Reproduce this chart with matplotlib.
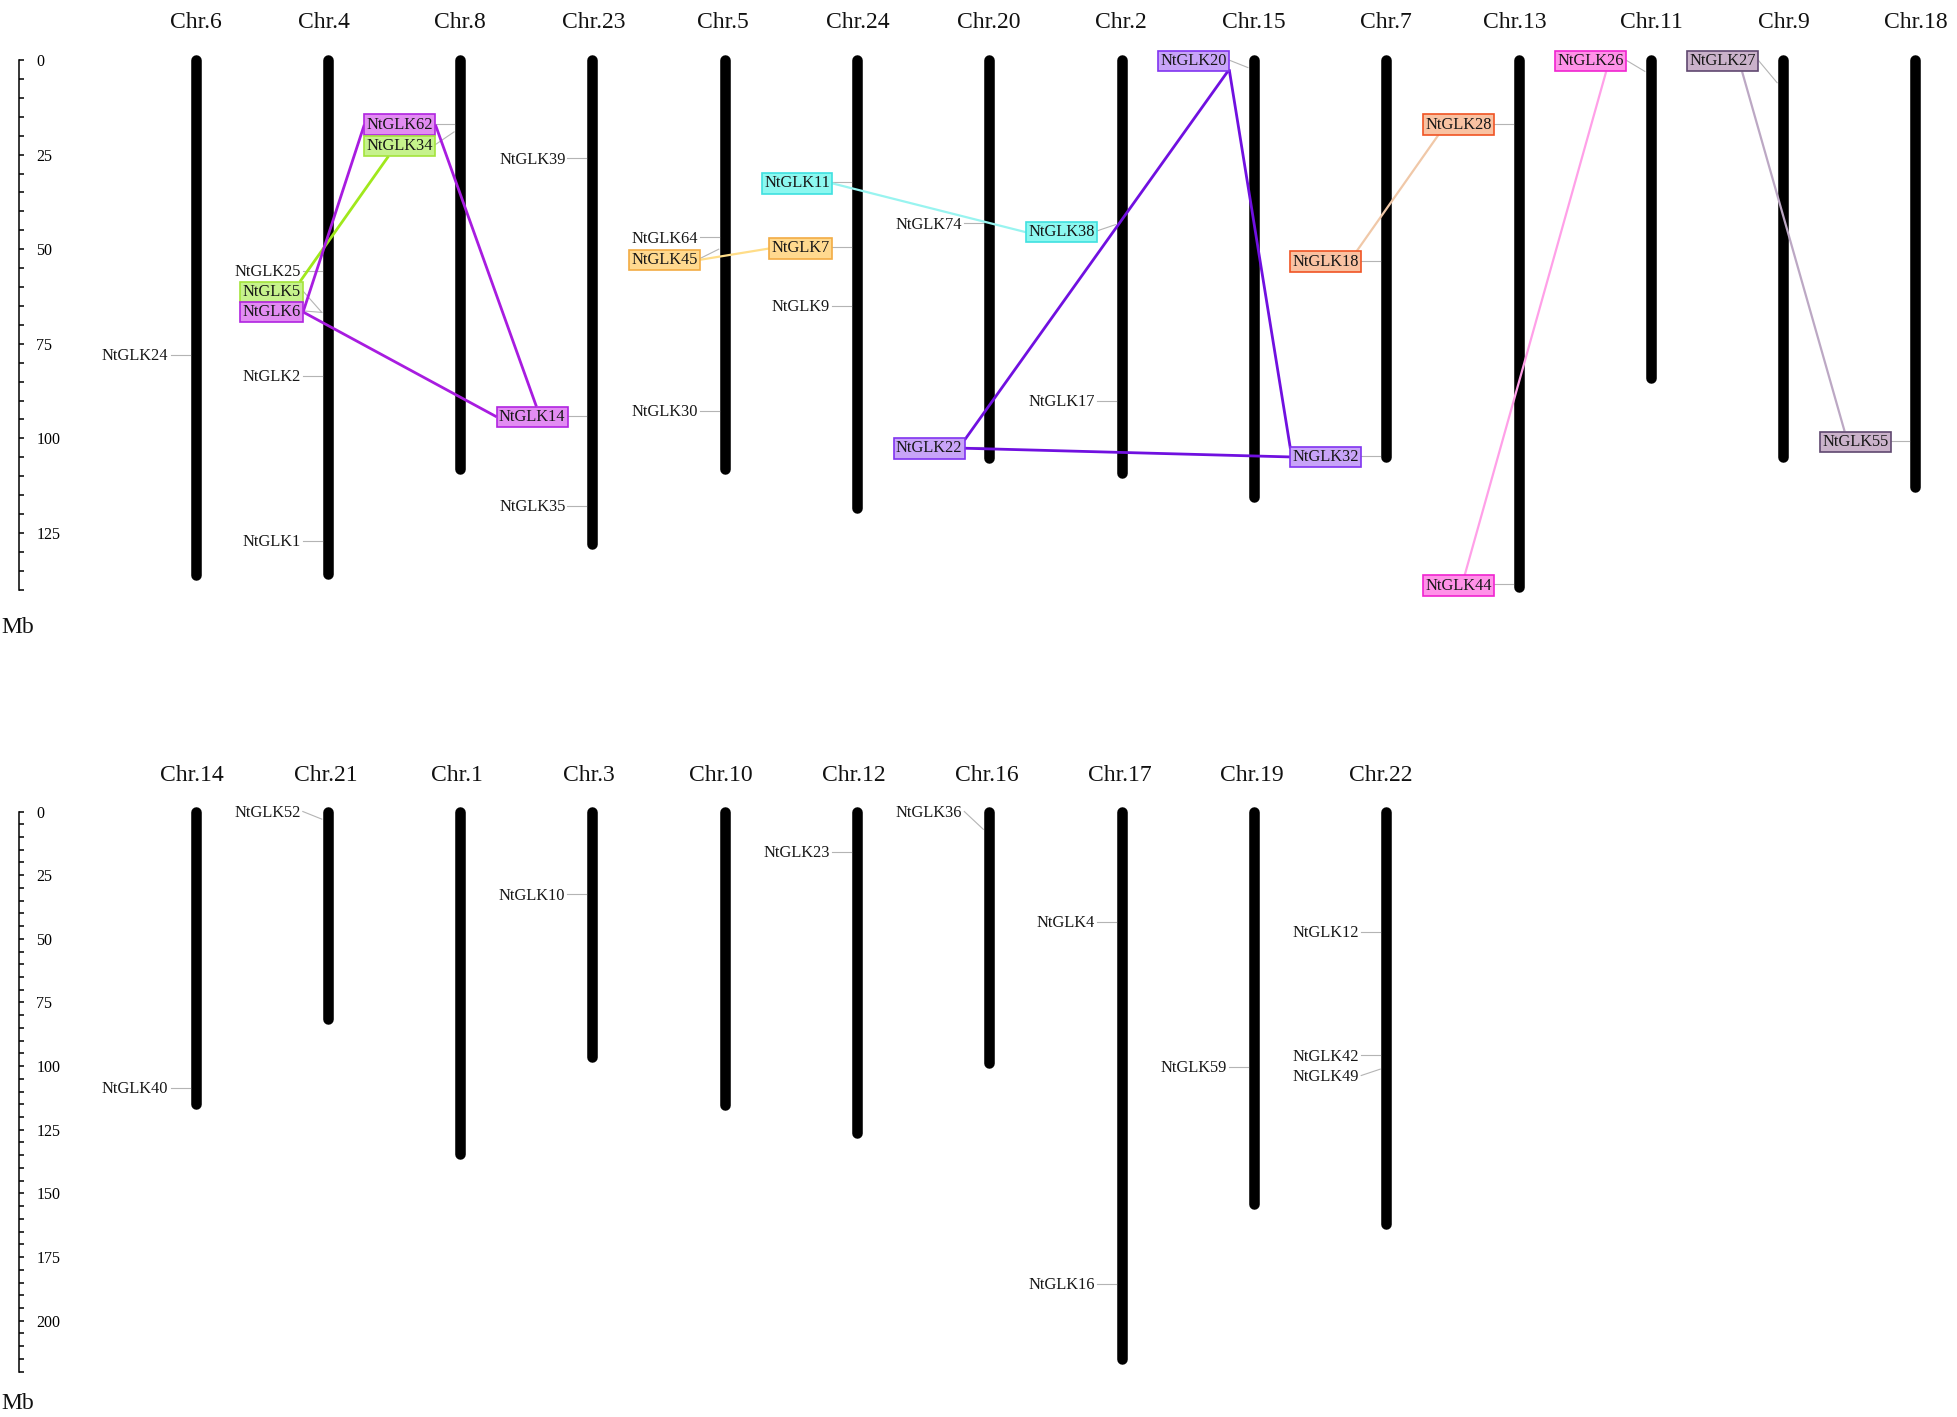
import matplotlib
matplotlib.use("Agg")
import matplotlib.pyplot as plt

plt.rcParams['font.family'] = ['Liberation Serif', 'DejaVu Serif']

# chromosomes, top row (Mb)
top_chrs = ['Chr.6', 'Chr.4', 'Chr.8', 'Chr.23', 'Chr.5', 'Chr.24', 'Chr.20', 'Chr.2', 'Chr.15', 'Chr.7',
            'Chr.13', 'Chr.11', 'Chr.9', 'Chr.18']
top_lengths = [136.2, 135.9, 108.2, 128, 108.2, 118.4, 105.2, 109.2, 115.4, 104.9, 139.2, 84.1, 104.9, 112.8]

# chromosomes, bottom row (Mb)
bot_chrs = ['Chr.14', 'Chr.21', 'Chr.1', 'Chr.3', 'Chr.10', 'Chr.12', 'Chr.16', 'Chr.17', 'Chr.19', 'Chr.22']
bot_lengths = [115, 81.6, 134.5, 96.3, 115.4, 126.2, 98.7, 215, 154, 162]

# genes: name, chromosome, position on it, height of the label
top_genes = ['NtGLK24', 'NtGLK25', 'NtGLK5', 'NtGLK6', 'NtGLK2', 'NtGLK1', 'NtGLK62', 'NtGLK34', 'NtGLK39',
             'NtGLK14', 'NtGLK35', 'NtGLK64', 'NtGLK45', 'NtGLK30', 'NtGLK11', 'NtGLK7', 'NtGLK9', 'NtGLK74',
             'NtGLK22', 'NtGLK38', 'NtGLK17', 'NtGLK20', 'NtGLK18', 'NtGLK32', 'NtGLK28', 'NtGLK44', 'NtGLK26',
             'NtGLK27', 'NtGLK55']
top_gene_chr = ['Chr.6', 'Chr.4', 'Chr.4', 'Chr.4', 'Chr.4', 'Chr.4', 'Chr.8', 'Chr.8', 'Chr.23',
                'Chr.23', 'Chr.23', 'Chr.5', 'Chr.5', 'Chr.5', 'Chr.24', 'Chr.24', 'Chr.24', 'Chr.20',
                'Chr.20', 'Chr.2', 'Chr.2', 'Chr.15', 'Chr.7', 'Chr.7', 'Chr.13', 'Chr.13', 'Chr.11',
                'Chr.9', 'Chr.18']
top_gene_mb = [77.9, 55.8, 66.7, 66.7, 83.5, 127, 16.8, 19, 26,
               94, 117.8, 46.9, 50, 92.7, 32.3, 49.5, 65, 43.2,
               102.3, 43.5, 90, 2, 53, 104.6, 16.8, 138.6, 3,
               6, 100.6]
top_label_mb = [77.9, 55.8, 61, 66.3, 83.5, 127, 16.8, 22.4, 26,
                94, 117.8, 46.9, 52.5, 92.7, 32.3, 49.5, 65, 43.2,
                102.3, 45.2, 90, 0, 53, 104.6, 16.8, 138.6, 0,
                0, 100.6]

bot_genes = ['NtGLK40', 'NtGLK52', 'NtGLK10', 'NtGLK23', 'NtGLK36', 'NtGLK4', 'NtGLK16', 'NtGLK59', 'NtGLK12',
             'NtGLK42', 'NtGLK49']
bot_gene_chr = ['Chr.14', 'Chr.21', 'Chr.3', 'Chr.12', 'Chr.16', 'Chr.17', 'Chr.17', 'Chr.19', 'Chr.22',
                'Chr.22', 'Chr.22']
bot_gene_mb = [108.6, 3, 32.6, 16, 7, 43.4, 185.5, 100.2, 47.3, 95.8, 101.2]
bot_label_mb = [108.6, 0, 32.6, 16, 0, 43.4, 185.5, 100.2, 47.3, 95.8, 103.7]

# duplicated pairs: fill, edge, line
groups = [
    (['NtGLK6', 'NtGLK62', 'NtGLK14'], '#E28CF2', '#B024E0', '#A81CE0'),
    (['NtGLK5', 'NtGLK34'], '#C6F28C', '#A4E43C', '#A0E81C'),
    (['NtGLK45', 'NtGLK7'], '#FFD98F', '#F2AC44', '#FFDD88'),
    (['NtGLK11', 'NtGLK38'], '#8CF8F0', '#40E0E0', '#98F4F0'),
    (['NtGLK20', 'NtGLK22', 'NtGLK32'], '#C8A4F8', '#8034F0', '#7010E0'),
    (['NtGLK18', 'NtGLK28'], '#F9C2A2', '#F05424', '#F0C8A8'),
    (['NtGLK44', 'NtGLK26'], '#FF92E8', '#F024D0', '#FFA0E8'),
    (['NtGLK27', 'NtGLK55'], '#CAB2CA', '#604870', '#BCA8C4'),
]

# links: gene a, spot on its box, gene b, spot on its box (0-1 across, 0-1 down)
links = [
    ('NtGLK5', (0.95, 0), 'NtGLK34', (0.34, 1), 2),
    ('NtGLK6', (1, 0.5), 'NtGLK62', (0, 0.5), 2),
    ('NtGLK6', (1, 0.5), 'NtGLK14', (0, 0.5), 2),
    ('NtGLK62', (1, 0.5), 'NtGLK14', (0.56, 0), 2),
    ('NtGLK45', (1, 0.5), 'NtGLK7', (0, 0.5), 1.6),
    ('NtGLK11', (1, 0.5), 'NtGLK38', (0, 0.5), 1.6),
    ('NtGLK20', (1, 0.9), 'NtGLK22', (1, 0.1), 2),
    ('NtGLK20', (1, 0.9), 'NtGLK32', (0, 0.1), 2),
    ('NtGLK22', (1, 0.5), 'NtGLK32', (0, 0.5), 2),
    ('NtGLK18', (0.93, 0), 'NtGLK28', (0.22, 1), 1.6),
    ('NtGLK44', (0.59, 0), 'NtGLK26', (0.72, 1), 1.6),
    ('NtGLK27', (0.77, 1), 'NtGLK55', (0.35, 0), 1.6),
]

W, H = 1957, 1417
COL0, COLW = 195.5, 132.3   # px of the first chromosome, px between chromosomes
fig = plt.figure(figsize=(W / 100, H / 100), dpi=100, facecolor='white')


def px(n):
    return n / COLW


def make_panel(y0, y1, zero, scale, ymax):
    ax = fig.add_axes([0, 1 - y1 / H, 1, (y1 - y0) / H])
    ax.patch.set_alpha(0)
    ax.set_xlim(-COL0 / COLW, (W - COL0) / COLW)
    ax.set_ylim((y1 - zero) / scale, (y0 - zero) / scale)
    for s in ['top', 'bottom', 'left']:
        ax.spines[s].set_visible(False)
    ax.spines['right'].set_position(('data', (19 - COL0) / COLW))
    ax.spines['right'].set_bounds(0, ymax)
    ax.spines['right'].set_linewidth(1.1)
    ax.xaxis.set_visible(False)
    ax.yaxis.tick_right()
    ax.set_yticks(list(range(0, ymax + 1, 25)))
    ax.set_yticks(list(range(0, ymax + 1, 5)), minor=True)
    ax.tick_params(axis='y', which='both', direction='out', width=1.1, length=3.5, labelsize=11.5, pad=9)
    return ax


def draw_panel(ax, chrs, lengths, genes, gene_chr, gene_mb, label_mb, title_y, mb_y, offs, nudge):
    texts = {}
    for i, (c, length) in enumerate(zip(chrs, lengths)):
        ax.plot([i, i], [0, length], color='black', lw=7.6, solid_capstyle='round', zorder=1)
        ax.text(i + px(offs[i]), title_y, c, ha='center', va='center', fontsize=17, color='#111111')
    ax.text(px(14 * 1.248 - COL0), mb_y, 'Mb', ha='center', va='center', fontsize=17, color='#111111')
    style = {}
    for names, fill, edge, _ in groups:
        for n in names:
            style[n] = (fill, edge)
    for g, c, mb, lab in zip(genes, gene_chr, gene_mb, label_mb):
        x = chrs.index(c)
        ax.plot([x - px(25), x - px(6)], [lab, mb], color='#b4b4b4', lw=0.8, zorder=2)
        box = None
        if g in style:
            box = dict(boxstyle='square,pad=0.14', fc=style[g][0], ec=style[g][1], lw=1.2)
        texts[g] = ax.text(x - px(27), lab + nudge, g, ha='right', va='center', fontsize=11.8, color='#161616',
                           bbox=box, zorder=4)
    return texts


ax_top = make_panel(0, 740, 60, 3.784, 140)
ax_bot = make_panel(740, H, 811.5, 2.546, 220)

top_offs = [0, -4, 0, 1, -2, 1, -1, -1, 0, 0, -4, 1, 1, 0]
bot_offs = [-4, -2, -3, -4, -4, -3, -2, -2, -2, -5]
top_texts = draw_panel(ax_top, top_chrs, top_lengths, top_genes, top_gene_chr, top_gene_mb, top_label_mb,
                       -9.8, 150, top_offs, 0.3)
draw_panel(ax_bot, bot_chrs, bot_lengths, bot_genes, bot_gene_chr, bot_gene_mb, bot_label_mb,
           -14.2, 232.5, bot_offs, 0.45)

# links need the finished label boxes
fig.canvas.draw()
colour_of = {n: g[3] for g in groups for n in g[0]}


def spot(gene, where):
    bb = top_texts[gene].get_bbox_patch().get_window_extent()
    p = (bb.x0 + where[0] * bb.width, bb.y1 - where[1] * bb.height)
    return ax_top.transData.inverted().transform(p)


for a, wa, b, wb, lw in links:
    pa, pb = spot(a, wa), spot(b, wb)
    ax_top.plot([pa[0], pb[0]], [pa[1], pb[1]], color=colour_of[a], lw=lw, zorder=3, solid_capstyle='butt')

fig.savefig('out.png', dpi=100)
